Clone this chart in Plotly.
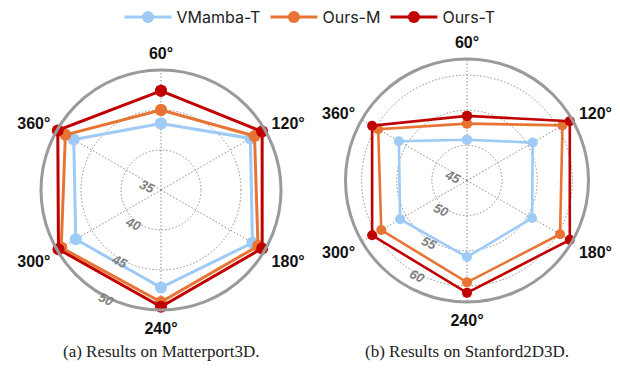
import plotly.graph_objects as go

categories = ["60°", "120°", "180°", "240°", "300°", "360°"]
series_names = ["VMamba-T", "Ours-M", "Ours-T"]
series_colors = ["#9DCBF6", "#E87434", "#C00000"]

# (a) Matterport3D
mp3d_vmamba = [43.3, 47.9, 48.2, 47.2, 47.3, 47.6]
mp3d_ours_m = [45.0, 48.5, 49.0, 49.0, 49.4, 48.8]
mp3d_ours_t = [47.4, 49.6, 49.6, 49.6, 49.8, 49.9]
mp3d_ticks = [35, 40, 45, 50]

# (b) Stanford2D3D
s2d3d_vmamba = [50.8, 55.8, 55.7, 55.9, 56.0, 56.2]
s2d3d_ours_m = [53.1, 60.7, 60.3, 59.5, 59.1, 59.6]
s2d3d_ours_t = [54.2, 61.9, 61.9, 61.0, 60.6, 60.6]
s2d3d_ticks = [45, 50, 55, 60]

captions = ["(a) Results on Matterport3D.", "(b) Results on Stanford2D3D."]

W, H = 620, 370

def dom(cx, cy, R):
    return dict(x=[(cx - R) / W, (cx + R) / W], y=[1 - (cy + R) / H, 1 - (cy - R) / H])

fig = go.Figure()

def closed(v):
    return list(v) + [v[0]]

for subplot, data, msize, lw, show in [
    ("polar", [mp3d_vmamba, mp3d_ours_m, mp3d_ours_t], 12, 3, True),
    ("polar2", [s2d3d_vmamba, s2d3d_ours_m, s2d3d_ours_t], 10, 2.6, False),
]:
    for name, color, vals in zip(series_names, series_colors, data):
        fig.add_trace(go.Scatterpolar(
            r=closed(vals), theta=closed(categories), name=name,
            mode="lines+markers", subplot=subplot, showlegend=show,
            line=dict(color=color, width=lw),
            marker=dict(color=color, size=msize),
        ))

GRID_DASH = "1.5px,2px"

def polar_layout(domain, rng, ticks):
    return dict(
        domain=domain,
        bgcolor="white",
        angularaxis=dict(
            direction="clockwise", rotation=90,
            showline=True, linecolor="#9A9A9A", linewidth=3,
            showgrid=True, gridcolor="#8C8C8C", griddash=GRID_DASH, gridwidth=1,
            ticks="outside", ticklen=3, tickcolor="rgba(0,0,0,0)",
            tickfont=dict(family="Liberation Sans", size=16, color="#111", weight="bold"),
        ),
        radialaxis=dict(
            range=rng, tickvals=ticks, ticktext=[str(t) for t in ticks],
            showline=False, ticks="", angle=250, tickangle=-85,
            showgrid=True, gridcolor="#8C8C8C", griddash=GRID_DASH, gridwidth=1,
            tickfont=dict(family="Liberation Sans", size=13, color="#808080",
                          style="italic", weight="bold"),
        ),
    )

fig.update_layout(
    width=W, height=H,
    margin=dict(l=0, r=0, t=0, b=0),
    paper_bgcolor="white",
    polar=polar_layout(dom(161, 190, 120), [35, 50], mp3d_ticks),
    polar2=polar_layout(dom(467, 180.5, 121.5), [45, 62.3], s2d3d_ticks),
    legend=dict(orientation="h", x=0.5, xanchor="center", y=1.0, yanchor="top",
                font=dict(family="Inter", size=16, color="#222"),
                itemwidth=47, bgcolor="rgba(0,0,0,0)"),
    annotations=[
        dict(text=captions[0], x=161 / W, y=1 - 351 / H, xref="paper", yref="paper",
             xanchor="center", yanchor="middle", showarrow=False,
             font=dict(family="Liberation Serif", size=17, color="#222")),
        dict(text=captions[1], x=467 / W, y=1 - 351 / H, xref="paper", yref="paper",
             xanchor="center", yanchor="middle", showarrow=False,
             font=dict(family="Liberation Serif", size=17, color="#222")),
    ],
)

fig.write_html("out.html", config={"displayModeBar": False},
               post_script="document.body.style.margin='0';")
